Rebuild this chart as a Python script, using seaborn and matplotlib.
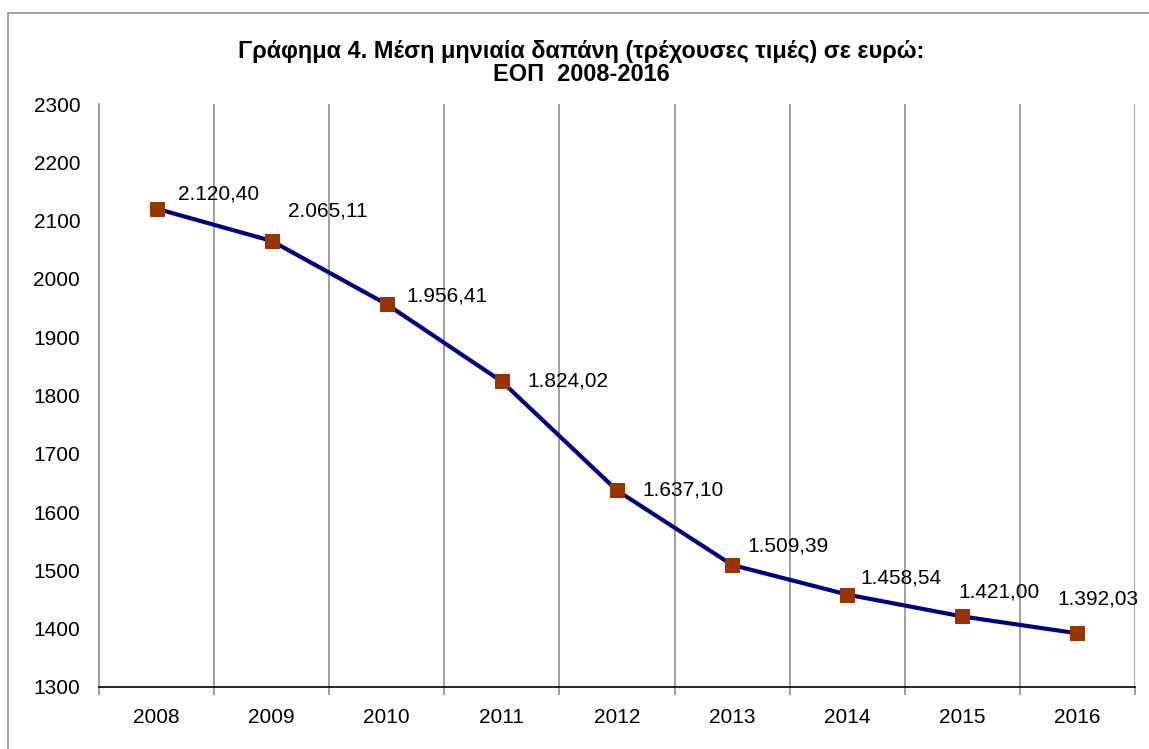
import matplotlib
matplotlib.use("Agg")
import matplotlib.pyplot as plt
import seaborn as sns
import pandas as pd
from matplotlib.ticker import FixedLocator
from matplotlib.patches import Rectangle

years = ["2008", "2009", "2010", "2011", "2012", "2013", "2014", "2015", "2016"]
values = [2120.40, 2065.11, 1956.41, 1824.02, 1637.10, 1509.39, 1458.54, 1421.00, 1392.03]
labels = ["2.120,40", "2.065,11", "1.956,41", "1.824,02", "1.637,10",
          "1.509,39", "1.458,54", "1.421,00", "1.392,03"]
yticks = [1300, 1400, 1500, 1600, 1700, 1800, 1900, 2000, 2100, 2200, 2300]
title = "Γράφημα 4. Μέση μηνιαία δαπάνη (τρέχουσες τιμές) σε ευρώ:\nΕΟΠ  2008-2016"

# label offsets in pixels (left edge, vertical centre) relative to each point
label_offsets = [(21, 15), (16, 30), (20, 8), (25, 0), (25, 0),
                 (15, 19), (13, 17), (-4, 24), (-20, 34)]

sns.set_theme(style="white")
plt.rcParams["font.family"] = ["Liberation Sans", "DejaVu Sans"]
plt.rcParams["text.color"] = "black"

df = pd.DataFrame({"year": years, "value": values})

fig = plt.figure(figsize=(11.49, 7.49), dpi=100)
ax = fig.add_axes([99 / 1149, 1 - 687 / 749, (1135 - 99) / 1149, (687 - 104) / 749])

sns.lineplot(data=df, x="year", y="value", ax=ax, color="#000080", linewidth=3,
             marker="s", markersize=10.5, markerfacecolor="#993300",
             markeredgecolor="#993300", sort=False)

ax.set_xlim(-0.5, len(years) - 0.5)
ax.set_ylim(yticks[0], yticks[-1])
ax.set_yticks(yticks)
ax.set_xticks(range(len(years)))
ax.set_xticklabels(years)
ax.xaxis.set_minor_locator(FixedLocator([i + 0.5 for i in range(-1, len(years))]))
ax.grid(False)
ax.grid(True, which="minor", axis="x", color="#999999", linewidth=1.3)
ax.set_xlabel("")
ax.set_ylabel("")

for s in ["top", "right"]:
    ax.spines[s].set_visible(False)
ax.spines["left"].set_color("#999999")
ax.spines["left"].set_linewidth(1.3)
ax.spines["bottom"].set_color("black")
ax.spines["bottom"].set_linewidth(1.2)

ax.tick_params(axis="y", which="both", left=False, length=0, labelsize=15, pad=13.5,
               labelcolor="black")
ax.tick_params(axis="x", which="major", bottom=False, labelsize=15, pad=9, labelcolor="black")
ax.tick_params(axis="x", which="minor", bottom=True, length=6, width=1.3, color="#999999")

for i, (lab, (dx, dy)) in enumerate(zip(labels, label_offsets)):
    ax.annotate(lab, xy=(i, values[i]), xytext=(dx, dy), textcoords="offset pixels",
                ha="left", va="center", fontsize=15, color="black")

fig.text(581 / 1149, 1 - 63 / 749, title, ha="center", va="center",
         fontsize=16.9, fontweight="bold", linespacing=1.03, color="black")

fig.patches.append(Rectangle((8 / 1149, -0.1), 1.2, 1 - 13 / 749 + 0.1,
                             transform=fig.transFigure, fill=False,
                             edgecolor="#999999", linewidth=1.3))

fig.savefig("out.png", dpi=100)
